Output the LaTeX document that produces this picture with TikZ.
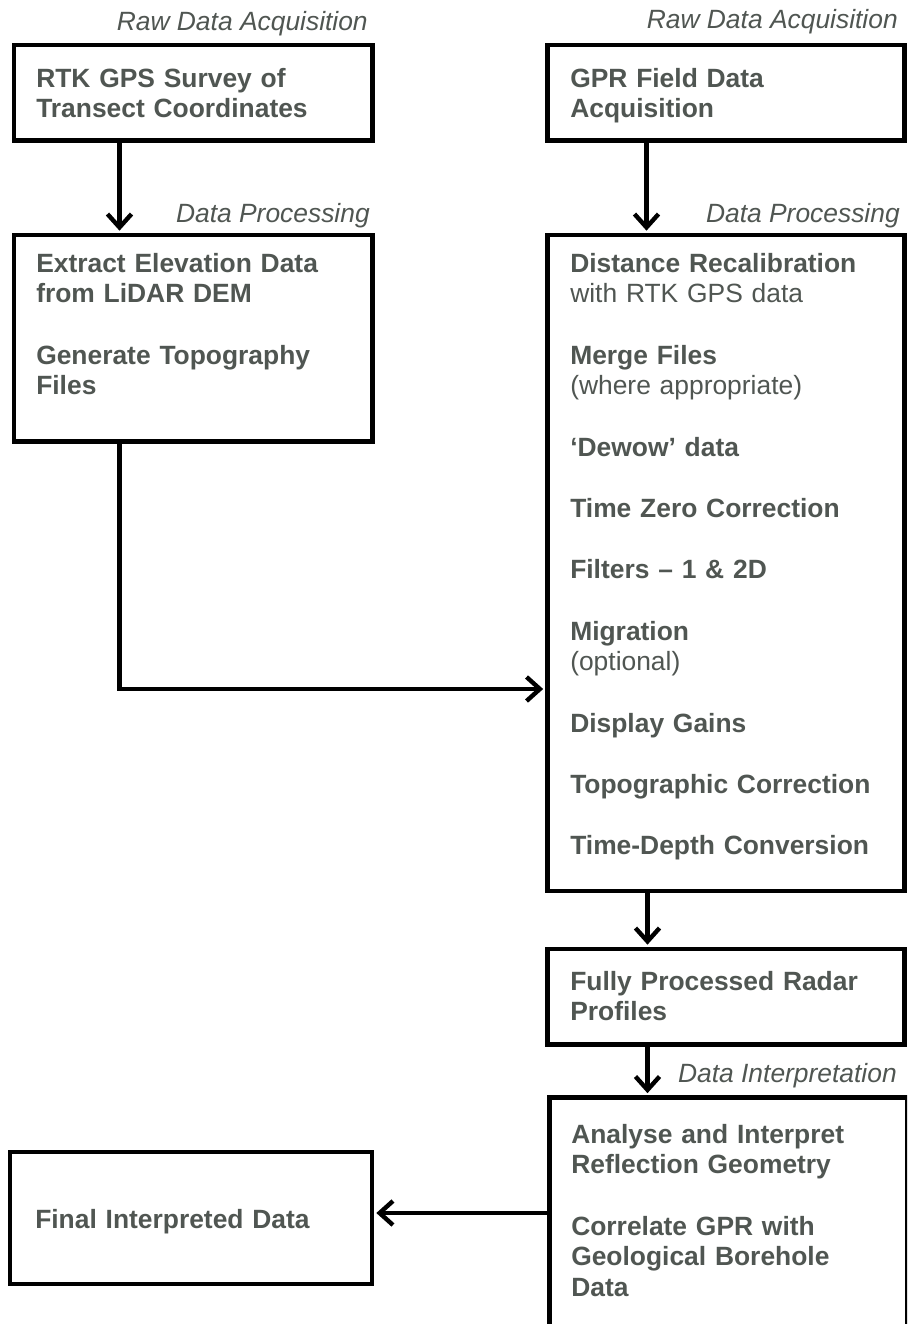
\documentclass[tikz,border=0pt]{standalone}
\usepackage{fontspec}
\setmainfont{Liberation Sans}
\usetikzlibrary{arrows.meta,fit}
\definecolor{txtgray}{RGB}{80,86,82}
\begin{document}
\begin{tikzpicture}[x=0.75pt,y=-0.75pt,
  box/.style={draw=black,line width=3.5pt,inner sep=0pt,fill=white},
  txt/.style={anchor=base west,inner sep=0pt,text width=255pt,align=left,
    text=txtgray,font=\bfseries\fontsize{19.8pt}{23pt}\selectfont},
  lab/.style={anchor=base east,inner sep=0pt,text=txtgray,
    font=\itshape\fontsize{19.8pt}{23pt}\selectfont},
  ar/.style={draw=black,line width=3.3pt,shorten >=1.5pt,
    -{Straight Barb[length=10pt,width=18pt,line width=3.3pt]}}]
\useasboundingbox (0,0) rectangle (907,1324);
\fill[white] (0,0) rectangle (907,1324);
\begin{scope}
\clip (0,0) rectangle (907,1324);
% boxes
\node[box,fit={(14,45) (372.5,140.5)}] (A) {};
\node[box,fit={(14,235) (372.5,441.5)}] (B) {};
\node[box,fit={(547.5,45) (904.5,140.5)}] (C) {};
\node[box,fit={(547.5,235) (904.5,891)}] (D) {};
\node[box,fit={(547.5,949) (904.5,1044.5)}] (E) {};
\node[box,fit={(549.5,1097.5) (907,1345)}] (F) {};
\node[box,fit={(10,1152) (372,1284)}] (G) {};
\end{scope}
% labels
\node[lab] (l1) at (368,30) {Raw Data Acquisition};
\node[lab] (l2) at (370,222) {Data Processing};
\node[lab] (l3) at (898,28) {Raw Data Acquisition};
\node[lab] (l4) at (900,222) {Data Processing};
\node[lab] (l5) at (897,1082) {Data Interpretation};
% texts
\node[txt] (tA) at (36,87) {RTK GPS Survey of\\Transect Coordinates};
\node[txt] (tB) at (36,272) {Extract Elevation Data\\from LiDAR DEM\\[23pt]Generate Topography\\Files};
\node[txt] (tC) at (570,87) {GPR Field Data\\Acquisition};
\node[txt] (tD) at (570,272) {Distance Recalibration\\{\mdseries with RTK GPS data}\\[23pt]Merge Files\\{\mdseries (where appropriate)}\\[23pt]‘Dewow’ data\\[23pt]Time Zero Correction\\[23pt]Filters – 1 \& 2D\\[23pt]Migration\\{\mdseries (optional)}\\[23pt]Display Gains\\[23pt]Topographic Correction\\[23pt]Time-Depth Conversion};
\node[txt] (tE) at (570,990) {Fully Processed Radar\\Profiles};
\node[txt] (tF) at (571,1143) {Analyse and Interpret\\Reflection Geometry\\[23pt]Correlate GPR with\\Geological Borehole\\Data};
\node[txt] (tG) at (35,1228) {Final Interpreted Data};
% connector helpers
\coordinate (xl) at (119.5,0);
\coordinate (xc) at (646.5,0);
\coordinate (xr) at (647.5,0);
\coordinate (ym) at (0,689);
\coordinate (yb) at (0,1213);
% connectors
\draw[ar] (A.south -| xl) -- (B.north -| xl);
\draw[ar] (C.south -| xc) -- (D.north -| xc);
\draw[ar] (B.south -| xl) |- (D.west |- ym);
\draw[ar] (D.south -| xr) -- (E.north -| xr);
\draw[ar] (E.south -| xr) -- (F.north -| xr);
\draw[ar] (F.west |- yb) -- (G.east |- yb);
\end{tikzpicture}
\end{document}
